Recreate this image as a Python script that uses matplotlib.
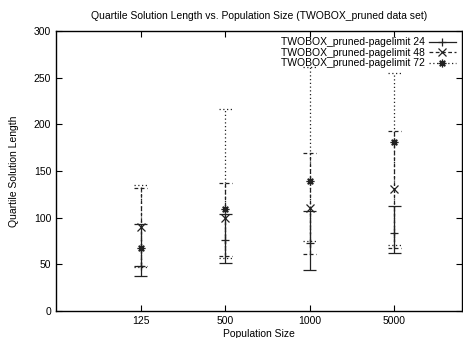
import matplotlib
matplotlib.use("Agg")
import matplotlib.pyplot as plt
from matplotlib.lines import Line2D
import numpy as np

plt.rcParams['font.family'] = ['Liberation Sans', 'DejaVu Sans']

sizes = ['125', '500', '1000', '5000']

# quartile values: middle point, lower and upper bar
mid24 = [48, 76, 73, 84]
low24 = [37, 51, 44, 62]
high24 = [93, 104, 107, 113]

mid48 = [90, 100, 110, 131]
low48 = [48, 59, 61, 67]
high48 = [132, 137, 169, 193]

mid72 = [68, 109, 139, 181]
low72 = [47, 57, 75, 71]
high72 = [135, 216, 262, 255]

labels = ['TWOBOX_pruned-pagelimit 24',
          'TWOBOX_pruned-pagelimit 48',
          'TWOBOX_pruned-pagelimit 72']

fig = plt.figure(figsize=(4.63, 3.38), dpi=100)
ax = fig.add_axes([0.121, 0.080, 0.877, 0.828])

x = np.arange(1, len(sizes) + 1)
cap = 0.075
col = '#222222'

series = [
    (mid24, low24, high24, '+', '-'),
    (mid48, low48, high48, 'x', (0, (3, 2))),
    (mid72, low72, high72, (8, 2, 0), (0, (1, 2))),
]

handles = []
for (mid, low, high, mk, ls), lab in zip(series, labels):
    mid = np.array(mid); low = np.array(low); high = np.array(high)
    ax.vlines(x, low, high, colors=col, linestyles=[ls], linewidth=0.9)
    ax.hlines(low, x - cap, x + cap, colors=col, linestyles=[ls], linewidth=0.9)
    ax.hlines(high, x - cap, x + cap, colors=col, linestyles=[ls], linewidth=0.9)
    ax.plot(x, mid, linestyle='none', marker=mk, color=col,
            markersize=5.5, markeredgewidth=0.9)
    handles.append(Line2D([], [], color=col, linestyle=ls, linewidth=0.9,
                          marker=mk, markersize=5.5, markeredgewidth=0.9))

ax.set_xlim(0, 4.8)
ax.set_ylim(0, 300)
ax.set_xticks(x)
ax.set_xticklabels(sizes)
ax.set_yticks(np.arange(0, 301, 50))
ax.tick_params(direction='in', top=True, right=True, length=4, labelsize=7.5, width=0.8)
for s in ax.spines.values():
    s.set_linewidth(1.0)

ax.set_xlabel('Population Size', fontsize=7.5, labelpad=2)
ax.set_ylabel('Quartile Solution Length', fontsize=7.5, labelpad=11)
ax.set_title('Quartile Solution Length vs. Population Size (TWOBOX_pruned data set)',
             fontsize=7.5, pad=9)

ax.legend(handles, labels, loc='upper right', frameon=False, fontsize=7.5,
          markerfirst=False, handlelength=2.6, handletextpad=0.4,
          labelspacing=0.05, borderaxespad=0.2)

fig.savefig('out.png', dpi=100)
